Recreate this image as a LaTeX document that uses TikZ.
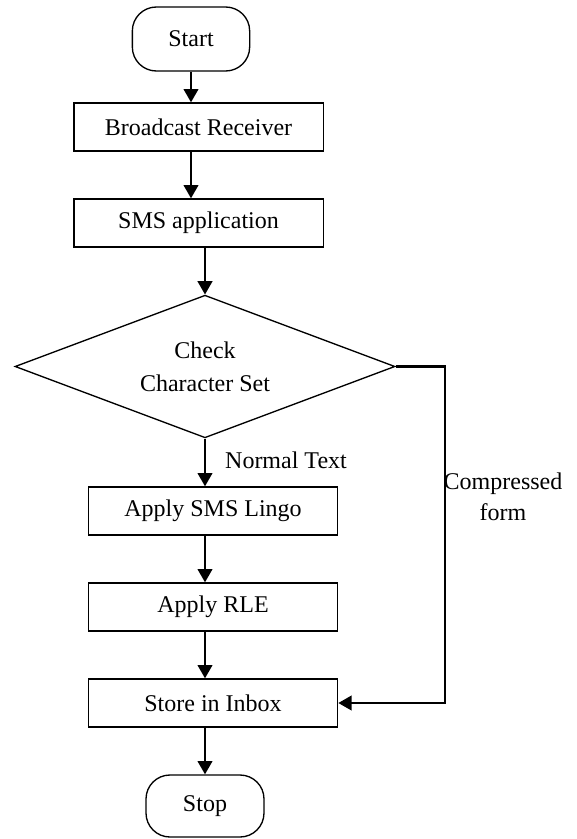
\documentclass[tikz,border=0pt]{standalone}
\usepackage{fontspec}
\setmainfont{Liberation Serif}
\usetikzlibrary{positioning, shapes.geometric, arrows.meta}

\tikzset{
  terminal/.style={draw, line width=1pt, rounded corners=18pt, minimum width=88pt, minimum height=48pt, inner sep=0pt},
  process/.style={draw, line width=1pt, minimum width=187pt, minimum height=36pt, inner sep=0pt},
  decision/.style={draw, line width=1pt, shape=diamond, aspect=2.7, minimum width=285pt, minimum height=107pt, inner sep=0pt, align=center},
  flow/.style={line width=1.6pt, -{Triangle[length=10pt, width=11pt]}}
}

\begin{document}
\begin{tikzpicture}[x=0.75pt, y=-0.75pt, font=\fontsize{18}{24}\selectfont]
    \useasboundingbox (0,0) rectangle (576,839);

    % Draw the blocks
    \node[terminal] (start) at (191,39) {Start};
    \node[process] (bcast) at (198.5,127) {Broadcast Receiver};
    \node[process] (sms) at (198.5,223) {SMS application};
    \node[decision] (check) at (205,366.5) {Check\\[1pt]Character Set};
    \node[process] (lingo) at (213,511) {Apply SMS Lingo};
    \node[process] (rle) at (213,607) {Apply RLE};
    \node[process] (inbox) at (213,703) {Store in Inbox};
    \node[terminal, minimum width=88.5pt, minimum height=46.5pt] (stop) at (205,806) {Stop};

    % Draw the main flow
    \draw[flow] (start.south) -- (start.south |- bcast.north);
    \draw[flow] (start.south |- bcast.south) -- (start.south |- sms.north);
    \draw[flow] (check.north |- sms.south) -- (check.north);
    \draw[flow] (check.south) -- (check.south |- lingo.north) node[pos=0.45, right=11pt] {Normal Text};
    \draw[flow] (check.south |- lingo.south) -- (check.south |- rle.north);
    \draw[flow] (check.south |- rle.south) -- (check.south |- inbox.north);
    \draw[flow] (stop.north |- inbox.south) -- (stop.north);

    % Draw the branch for compressed form
    \coordinate (bend) at (445,366.5);
    \draw[flow] (check.east) -- (bend) -- (bend |- inbox.east) -- (inbox.east);
    \node[align=center, font=\fontsize{18}{23}\selectfont] (compr) at (503,497) {Compressed\\form};
\end{tikzpicture}
\end{document}
